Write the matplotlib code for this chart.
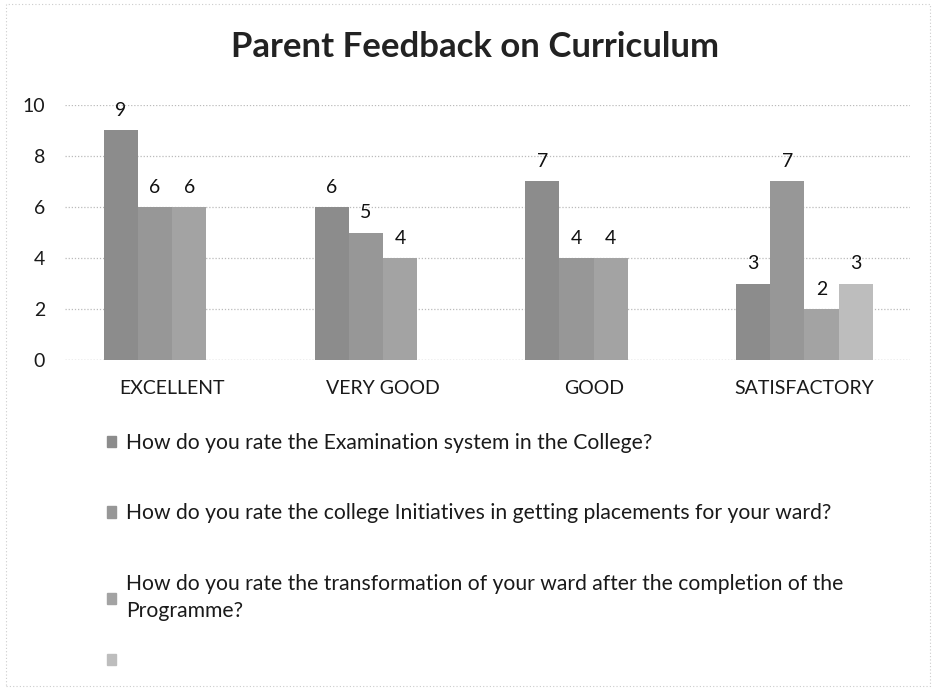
import matplotlib.pyplot as plt
import numpy as np
from matplotlib.patches import Rectangle

plt.rcParams['font.family'] = ['Lato', 'DejaVu Sans']

categories = ['EXCELLENT', 'VERY GOOD', 'GOOD', 'SATISFACTORY']
series_names = [
    'How do you rate the Examination system in the College?',
    'How do you rate the college Initiatives in getting placements for your ward?',
    'How do you rate the transformation of your ward after the completion of the\nProgramme?',
    '',
]
examination = [9, 6, 7, 3]
placements = [6, 5, 4, 7]
transformation = [6, 4, 4, 2]
fourth = [None, None, None, 3]
yticks = [0, 2, 4, 6, 8, 10]

series = [examination, placements, transformation, fourth]
colors = ['#8c8c8c', '#979797', '#a3a3a3', '#bdbdbd']

fig = plt.figure(figsize=(9.36, 6.9), dpi=100)
ax = fig.add_axes([0.069, 0.478, 0.903, 0.370])

x = np.arange(len(categories))
width = 0.162
handles = []
for i, (vals, col) in enumerate(zip(series, colors)):
    xs = [xi + (i - 1.5) * width for xi, v in zip(x, vals) if v is not None]
    vs = [v for v in vals if v is not None]
    bars = ax.bar(xs, vs, width, color=col, zorder=2)
    handles.append(Rectangle((0, 0), 1, 1, color=col))
    for b, v in zip(bars, vs):
        ax.annotate(str(v), (b.get_x() + b.get_width() / 2, v),
                    xytext=(0, 8), textcoords='offset points',
                    ha='center', va='bottom', fontsize=14, color='#111111')

ax.set_xlim(-0.51, 3.5)
ax.set_ylim(0, 10)
ax.set_yticks(yticks)
ax.set_xticks(x)
ax.set_xticklabels(categories, fontsize=14, color='#1a1a1a')
ax.tick_params(axis='y', labelsize=14, colors='#1a1a1a', length=0, pad=14)
ax.tick_params(axis='x', length=0, pad=14)
ax.grid(axis='y', color='#bbbbbb', linestyle=(0, (1, 1.5)), linewidth=0.9, zorder=0)
ax.axhline(0, color='#bbbbbb', linestyle=(0, (1, 1.5)), linewidth=0.9, zorder=0)
for s in ax.spines.values():
    s.set_visible(False)

fig.suptitle('Parent Feedback on Curriculum', y=0.955, x=0.508, fontsize=25,
             fontweight='bold', color='#222222')

leg_kw = dict(loc='upper left', frameon=False, fontsize=15.2,
              handlelength=0.45, handleheight=0.45, handletextpad=0.45,
              labelcolor='#1a1a1a', borderaxespad=0)
leg = fig.legend(handles[:3], series_names[:3], bbox_to_anchor=(0.105, 0.385),
                 labelspacing=2.4, **leg_kw)
for t in leg.get_texts():
    t.set_linespacing(1.45)
fig.legend(handles[3:], series_names[3:], bbox_to_anchor=(0.105, 0.069), **leg_kw)

fig.patches.append(Rectangle((0.006, 0.006), 0.988, 0.988, transform=fig.transFigure,
                             fill=False, edgecolor='#cccccc', linestyle=(0, (1, 2)),
                             linewidth=0.8))

fig.savefig('out.png', dpi=100)
